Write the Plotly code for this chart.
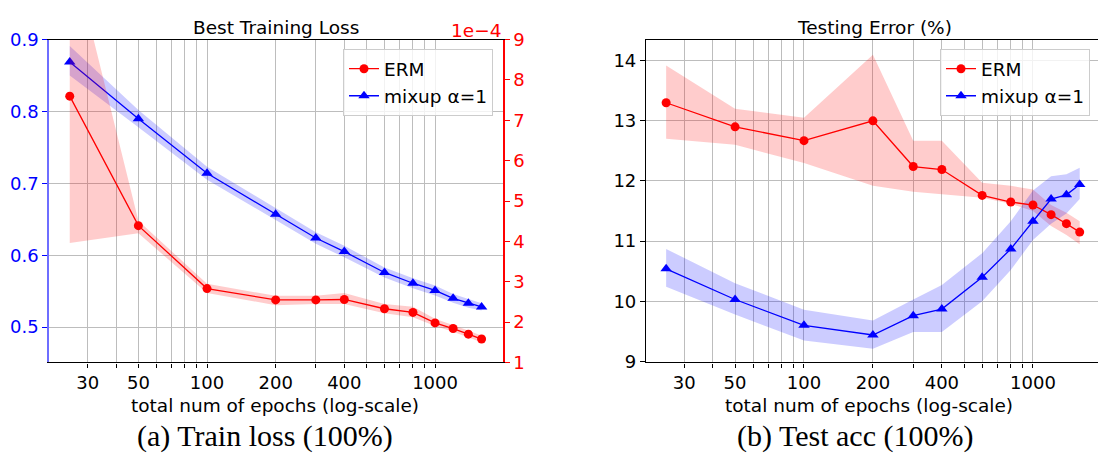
import math
import plotly.graph_objects as go

# ---------------- data ----------------
epochs = [25, 50, 100, 200, 300, 400, 600, 800, 1000, 1200, 1400, 1600]

mixup_loss = [0.869, 0.790, 0.714, 0.657, 0.624, 0.605, 0.576, 0.561, 0.551, 0.540, 0.533, 0.528]
mixup_loss_hi = [0.891, 0.802, 0.723, 0.666, 0.632, 0.613, 0.583, 0.568, 0.558, 0.546, 0.539, 0.533]
mixup_loss_lo = [0.850, 0.778, 0.705, 0.649, 0.616, 0.597, 0.569, 0.554, 0.544, 0.534, 0.527, 0.523]

erm_loss_e4 = [7.6, 4.39, 2.83, 2.55, 2.55, 2.56, 2.33, 2.24, 1.98, 1.84, 1.70, 1.58]
erm_loss_hi_e4 = [11.4, 4.51, 2.95, 2.65, 2.65, 2.72, 2.45, 2.38, 2.08, 1.93, 1.79, 1.66]
erm_loss_lo_e4 = [3.96, 4.20, 2.72, 2.42, 2.45, 2.45, 2.22, 2.12, 1.90, 1.76, 1.62, 1.50]

erm_err = [13.30, 12.90, 12.67, 13.00, 12.24, 12.19, 11.76, 11.65, 11.60, 11.44, 11.29, 11.15]
erm_err_hi = [13.92, 13.20, 13.05, 14.10, 12.67, 12.67, 11.97, 11.92, 11.86, 11.60, 11.47, 11.33]
erm_err_lo = [12.70, 12.60, 12.30, 11.92, 11.82, 11.78, 11.72, 11.62, 11.50, 11.25, 11.10, 10.95]

mixup_err = [10.54, 10.03, 9.60, 9.44, 9.76, 9.87, 10.40, 10.87, 11.33, 11.70, 11.77, 11.94]
mixup_err_hi = [10.87, 10.30, 9.86, 9.68, 10.03, 10.27, 10.80, 11.33, 11.84, 12.08, 12.11, 12.22]
mixup_err_lo = [10.24, 9.78, 9.35, 9.21, 9.49, 9.49, 10.00, 10.52, 11.02, 11.29, 11.46, 11.70]

x_tickvals = [30, 40, 50, 60, 70, 80, 90, 100, 200, 300, 400, 500, 600, 700, 800, 900, 1000]
x_labeled = [30, 50, 100, 200, 400, 1000]
left_yticks = [0.5, 0.6, 0.7, 0.8, 0.9]
right_yticks = [1, 2, 3, 4, 5, 6, 7, 8, 9]
err_yticks = [9, 10, 11, 12, 13, 14]

# ---------------- style ----------------
W, H = 1098, 466
FONT = "DejaVu Sans"
RED = "#ff0000"
BLUE = "#0000ff"
RED_FILL = "rgba(255,0,0,0.2)"
BLUE_FILL = "rgba(0,0,255,0.2)"
GRID = "#bdbdbd"
TICK_SIZE = 18
TEXT_SIZE = 18.5

def px_x(p):
    return p / W

def px_y(p):
    return 1 - p / H

x_ticktext = [str(v) if v in x_labeled else "" for v in x_tickvals]

fig = go.Figure()

def band(x, lo, hi, color, xa, ya):
    return go.Scatter(
        x=list(x) + list(x)[::-1], y=list(hi) + list(lo)[::-1],
        xaxis=xa, yaxis=ya, fill="toself", fillcolor=color,
        line=dict(width=0), mode="lines", hoverinfo="skip", showlegend=False)

fig.add_trace(band(epochs, mixup_loss_lo, mixup_loss_hi, BLUE_FILL, "x", "y"))
fig.add_trace(go.Scatter(x=epochs, y=mixup_loss, xaxis="x", yaxis="y", name="mixup α=1",
                         mode="lines+markers", line=dict(color=BLUE, width=1.3),
                         marker=dict(symbol="triangle-up", size=10, color=BLUE),
                         legend="legend", legendrank=2))
fig.add_trace(band(epochs, erm_loss_lo_e4, erm_loss_hi_e4, RED_FILL, "x", "y3"))
fig.add_trace(go.Scatter(x=epochs, y=erm_loss_e4, xaxis="x", yaxis="y3", name="ERM",
                         mode="lines+markers", line=dict(color=RED, width=1.3),
                         marker=dict(symbol="circle", size=9, color=RED),
                         legend="legend", legendrank=1))

fig.add_trace(band(epochs, erm_err_lo, erm_err_hi, RED_FILL, "x2", "y2"))
fig.add_trace(band(epochs, mixup_err_lo, mixup_err_hi, BLUE_FILL, "x2", "y2"))
fig.add_trace(go.Scatter(x=epochs, y=erm_err, xaxis="x2", yaxis="y2", name="ERM",
                         mode="lines+markers", line=dict(color=RED, width=1.3),
                         marker=dict(symbol="circle", size=9, color=RED),
                         legend="legend2", legendrank=1))
fig.add_trace(go.Scatter(x=epochs, y=mixup_err, xaxis="x2", yaxis="y2", name="mixup α=1",
                         mode="lines+markers", line=dict(color=BLUE, width=1.3),
                         marker=dict(symbol="triangle-up", size=10, color=BLUE),
                         legend="legend2", legendrank=2))

tickfont = dict(family=FONT, size=TICK_SIZE, color="black")
y_dom = [px_y(368), px_y(30)]

xcommon = dict(type="log", tickvals=x_tickvals, ticktext=x_ticktext,
               showgrid=True, gridcolor=GRID, gridwidth=1,
               showline=True, linecolor="black", linewidth=1.2, mirror=True,
               ticks="outside", ticklen=4, tickcolor="black",
               tickfont=tickfont, zeroline=False)

fig.update_layout(
    width=W, height=H, margin=dict(l=0, r=0, t=0, b=0),
    paper_bgcolor="white", plot_bgcolor="white",
    font=dict(family=FONT, size=TEXT_SIZE, color="black"),
    xaxis=dict(domain=[px_x(49), px_x(503)], range=[1.307, 3.298], anchor="y", **xcommon),
    xaxis2=dict(domain=[px_x(646), 1.0], range=[1.31, 3.284], anchor="y2", **xcommon),
    yaxis=dict(domain=y_dom, range=[0.4508, 0.9], anchor="x", tickvals=left_yticks,
               tickformat=".1f", showgrid=True, gridcolor=GRID, gridwidth=1,
               showline=True, linecolor="#6e6eff", linewidth=1.5,
               ticks="outside", ticklen=5, tickcolor=BLUE,
               tickfont=dict(family=FONT, size=TICK_SIZE, color=BLUE), zeroline=False),
    yaxis3=dict(range=[1, 9], overlaying="y", side="right", anchor="x",
                tickvals=right_yticks, showgrid=False,
                showline=True, linecolor=RED, linewidth=1.5,
                ticks="outside", ticklen=5, tickcolor=RED,
                tickfont=dict(family=FONT, size=TICK_SIZE, color=RED), zeroline=False),
    yaxis2=dict(domain=y_dom, range=[8.984, 14.349], anchor="x2", tickvals=err_yticks,
                showgrid=True, gridcolor=GRID, gridwidth=1,
                showline=True, linecolor="black", linewidth=1.2,
                ticks="outside", ticklen=5, tickcolor="black",
                tickfont=tickfont, zeroline=False),
    legend=dict(x=px_x(493), y=px_y(40), xanchor="right", yanchor="top",
                bgcolor="rgba(255,255,255,0.8)", bordercolor="#cccccc", borderwidth=1,
                font=dict(family=FONT, size=TEXT_SIZE, color="black"), tracegroupgap=0),
    legend2=dict(x=px_x(1090), y=px_y(40), xanchor="right", yanchor="top",
                 bgcolor="rgba(255,255,255,0.8)", bordercolor="#cccccc", borderwidth=1,
                 font=dict(family=FONT, size=TEXT_SIZE, color="black"), tracegroupgap=0),
    showlegend=True,
)

ann = []
def add_text(text, x, y, size=TEXT_SIZE, color="black", family=FONT, xanchor="center", yanchor="middle"):
    ann.append(dict(text=text, x=x, y=y, xref="paper", yref="paper", showarrow=False,
                    xanchor=xanchor, yanchor=yanchor,
                    font=dict(family=family, size=size, color=color)))

add_text("Best Training Loss", px_x(276), px_y(17))
add_text("Testing Error (%)", px_x(874), px_y(17))
add_text("1e\u22124", px_x(503), px_y(20), color=RED, xanchor="right")
add_text("total num of epochs (log-scale)", px_x(275), px_y(413))
add_text("total num of epochs (log-scale)", px_x(869), px_y(413))
add_text("(a) Train loss (100%)", px_x(265), px_y(445), size=30, family="Liberation Serif")
add_text("(b) Test acc (100%)", px_x(855), px_y(445), size=30, family="Liberation Serif")
fig.update_layout(annotations=ann)

fig.write_html("out.html")
